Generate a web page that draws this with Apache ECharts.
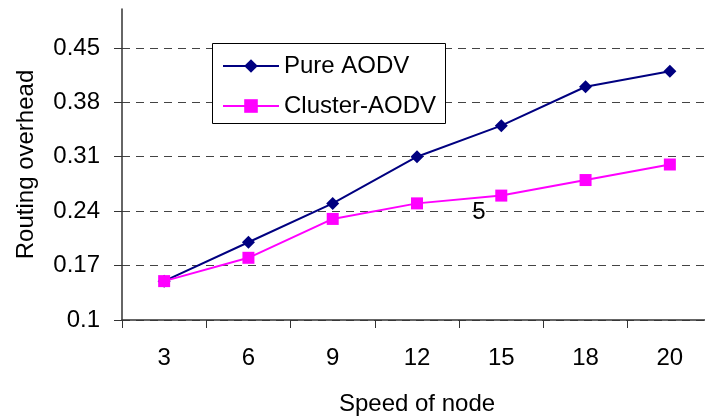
<!DOCTYPE html>
<html>
<head>
<meta charset="utf-8">
<style>
  html, body { margin: 0; padding: 0; background: #ffffff; }
  #chart { width: 705px; height: 418px; }
</style>
<script src="https://cdn.jsdelivr.net/npm/echarts@6/dist/echarts.min.js"></script>
</head>
<body>
<div id="chart"></div>
<script>
// Node speed categories on the x axis
const speeds = ['3', '6', '9', '12', '15', '18', '20'];
// Routing overhead for each protocol
const pureAodv = [0.15, 0.20, 0.25, 0.31, 0.35, 0.40, 0.42];
const clusterAodv = [0.15, 0.18, 0.23, 0.25, 0.26, 0.28, 0.30];
// Value-axis tick positions
const overheadTicks = [0.1, 0.17, 0.24, 0.31, 0.38, 0.45];

const FONT = '"Liberation Sans", Arial, sans-serif';
const chart = echarts.init(document.getElementById('chart'), null, { renderer: 'canvas' });

chart.setOption({
  animation: false,
  backgroundColor: '#ffffff',
  textStyle: { fontFamily: FONT, color: '#000' },
  grid: {
    left: 122, right: -7, top: 9, bottom: 98,
    containLabel: false, outerBoundsMode: 'none'
  },
  xAxis: {
    type: 'category',
    data: speeds,
    boundaryGap: true,
    name: 'Speed of node',
    nameLocation: 'middle',
    nameGap: 72,
    nameTextStyle: { fontSize: 24, color: '#000', fontFamily: FONT },
    axisLine: { show: true, lineStyle: { color: '#333', width: 1.5 } },
    axisTick: { show: true, length: 8, lineStyle: { color: '#333', width: 1 } },
    axisLabel: { fontSize: 24, color: '#000', margin: 26, fontFamily: FONT },
    splitLine: { show: false }
  },
  yAxis: {
    type: 'value',
    min: 0.1,
    max: 0.5,
    name: 'Routing overhead',
    nameLocation: 'middle',
    nameRotate: 90,
    nameGap: 84,
    nameTextStyle: { fontSize: 24, color: '#000', fontFamily: FONT },
    axisLine: { show: true, lineStyle: { color: '#333', width: 1.5 } },
    axisTick: {
      show: true, length: 8, customValues: overheadTicks,
      lineStyle: { color: '#333', width: 1 }
    },
    axisLabel: {
      fontSize: 24, color: '#000', margin: 22, fontFamily: FONT,
      customValues: overheadTicks,
      formatter: v => String(Math.round(v * 100) / 100)
    },
    splitLine: {
      show: true,
      lineStyle: { color: '#444', width: 1, type: [8, 6] }
    }
  },
  legend: {
    orient: 'vertical',
    left: 222,
    top: 54,
    padding: 0,
    itemWidth: 56,
    itemHeight: 17,
    itemGap: 16,
    textStyle: { fontSize: 24, color: '#000', fontFamily: FONT },
    data: ['Pure AODV', 'Cluster-AODV']
  },
  graphic: [
    {
      type: 'rect',
      z: 3,
      shape: { x: 212.5, y: 43.5, width: 233, height: 80 },
      style: { fill: '#ffffff', stroke: '#000000', lineWidth: 1 }
    },
    {
      type: 'text',
      z: 5,
      x: 479,
      y: 212,
      style: {
        text: '5', fontSize: 24, fontFamily: FONT, fill: '#000',
        align: 'center', verticalAlign: 'middle'
      }
    }
  ],
  series: [
    {
      name: 'Pure AODV',
      type: 'line',
      data: pureAodv,
      symbol: 'diamond',
      symbolSize: 13,
      itemStyle: { color: '#000080' },
      lineStyle: { color: '#000080', width: 2 },
      z: 2
    },
    {
      name: 'Cluster-AODV',
      type: 'line',
      data: clusterAodv,
      symbol: 'rect',
      symbolSize: 12,
      itemStyle: { color: '#ff00ff' },
      lineStyle: { color: '#ff00ff', width: 2 },
      z: 3
    }
  ]
});
</script>
</body>
</html>
